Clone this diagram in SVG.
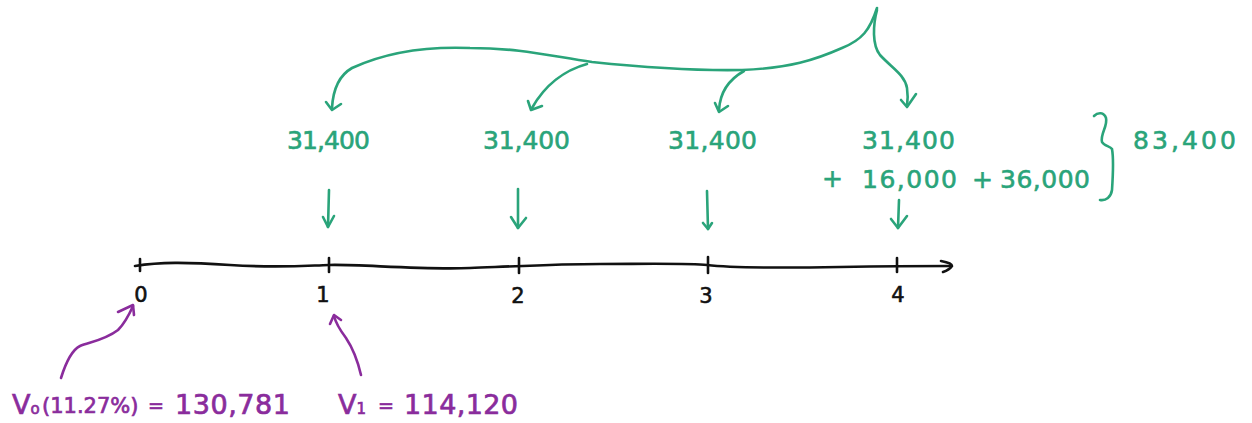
<svg xmlns="http://www.w3.org/2000/svg" width="1252" height="423" viewBox="0 0 1252 423">
  <style>
    .g { fill: none; stroke: #2aa47a; stroke-width: 2.6; stroke-linecap: round; stroke-linejoin: round; }
    .p { fill: none; stroke: #8a2c9c; stroke-width: 2.6; stroke-linecap: round; stroke-linejoin: round; }
    .k { fill: none; stroke: #111; stroke-width: 2.6; stroke-linecap: round; stroke-linejoin: round; }
    .tg { fill: #2aa47a; stroke: #2aa47a; stroke-width: 0.6; font-family: "DejaVu Sans", sans-serif; font-size: 25px; }
    .tp { fill: #8a2c9c; stroke: #8a2c9c; stroke-width: 0.7; font-family: "DejaVu Sans", sans-serif; font-size: 27px; }
    .tp.eq { font-size: 19px; }
    .tp.pct { font-size: 21px; }
    .sub { font-size: 15px; }
    .tk { fill: #111; stroke: #111; stroke-width: 0.6; font-family: "DejaVu Sans", sans-serif; font-size: 21px; text-anchor: middle; }
  </style>
  <rect width="1252" height="423" fill="#fff"/>

  <!-- timeline axis with period ticks -->
  <g id="timeline">
    <path class="k" d="M135,266 C160,262 185,262 230,265 S300,266 329,265 S420,270 470,268 S560,264 600,264 S690,263 707,265 S780,268 840,267 S915,266 951,266"/>
    <path class="k" d="M941,261 C947,262 952,264 952,266 C950,269 946,271 943,272"/>
    <path class="k" d="M140,259 L140,271"/>
    <path class="k" d="M329,258 L329,272"/>
    <path class="k" d="M519,258 L519,273"/>
    <path class="k" d="M708,257 L708,273"/>
    <path class="k" d="M897,258 L897,272"/>
    <text class="tk" x="141" y="302">0</text>
    <text class="tk" x="323" y="302">1</text>
    <text class="tk" x="518" y="303">2</text>
    <text class="tk" x="706" y="303">3</text>
    <text class="tk" x="898" y="302">4</text>
  </g>

  <!-- cash flow labels -->
  <g id="cf1"><text class="tg" x="287" y="149" textLength="83" lengthAdjust="spacing">31,400</text></g>
  <g id="cf2"><text class="tg" x="483" y="149" textLength="87" lengthAdjust="spacing">31,400</text></g>
  <g id="cf3"><text class="tg" x="668" y="149" textLength="89" lengthAdjust="spacing">31,400</text></g>
  <g id="cf4">
    <text class="tg" x="862" y="149" textLength="93" lengthAdjust="spacing">31,400</text>
    <text class="tg" x="822" y="187">+</text>
    <text class="tg" x="862" y="188" textLength="95" lengthAdjust="spacing">16,000</text>
    <text class="tg" x="972" y="188">+</text>
    <text class="tg" x="1000" y="188" textLength="90" lengthAdjust="spacing">36,000</text>
  </g>
  <g id="total">
    <path class="g" d="M1094,116 C1098,112 1104,112 1106,118 C1108,126 1100,134 1102,142 C1104,146 1110,146 1112,149 C1114,160 1113,175 1112,190 C1111,197 1106,201 1100,200"/>
    <text class="tg" x="1133" y="149" textLength="103" lengthAdjust="spacing">83,400</text>
  </g>

  <!-- valuations -->
  <g id="v0">
    <text class="tp" x="12" y="414">V<tspan class="sub">o</tspan></text>
    <text class="tp pct" x="42" y="413">(11.27%)</text>
    <text class="tp eq" x="148" y="412">=</text>
    <text class="tp" x="175" y="414" textLength="115" lengthAdjust="spacing">130,781</text>
  </g>
  <g id="v1">
    <text class="tp" x="338" y="414">V<tspan class="sub">1</tspan></text>
    <text class="tp eq" x="378" y="412">=</text>
    <text class="tp" x="404" y="414" textLength="114" lengthAdjust="spacing">114,120</text>
  </g>

  <!-- connectors -->
  <g id="connectors">
    <!-- split of the single amount into the four periods -->
    <path class="g" d="M877,8 C870,30 862,40 842,48 C815,60 790,68 742,70 C690,71 640,67 592,62 C550,56 520,48 470,48 C420,46 380,55 352,68 C338,76 333,90 332,108"/>
    <path class="g" d="M326,102 L332,110 L341,104"/>
    <path class="g" d="M587,64 C565,70 545,85 532,108"/>
    <path class="g" d="M528,101 L531,110 L542,106"/>
    <path class="g" d="M744,71 C728,80 720,92 719,110"/>
    <path class="g" d="M715,103 L719,112 L728,106"/>
    <path class="g" d="M877,10 C873,25 872,45 880,55 C892,68 905,75 907,88 C908,95 908,100 907,106"/>
    <path class="g" d="M901,100 L907,107 L916,94"/>
    <!-- amounts onto the axis -->
    <path class="g" d="M329,190 L328,227"/>
    <path class="g" d="M323,217 L328,227 L334,216"/>
    <path class="g" d="M518,189 L518,228"/>
    <path class="g" d="M511,217 L518,228 L526,218"/>
    <path class="g" d="M707,191 L708,229"/>
    <path class="g" d="M703,223 L708,229 L712,223"/>
    <path class="g" d="M899,200 L898,228"/>
    <path class="g" d="M891,219 L898,228 L907,216"/>
    <!-- valuation pointers -->
    <path class="p" d="M61,378 C66,362 72,350 80,346 C90,342 105,340 118,330 C125,323 129,315 133,306"/>
    <path class="p" d="M118,312 L133,305 L134,315"/>
    <path class="p" d="M361,375 C358,362 354,350 346,338 C340,330 336,324 334,316"/>
    <path class="p" d="M330,324 L334,315 L341,320"/>
  </g>
</svg>
